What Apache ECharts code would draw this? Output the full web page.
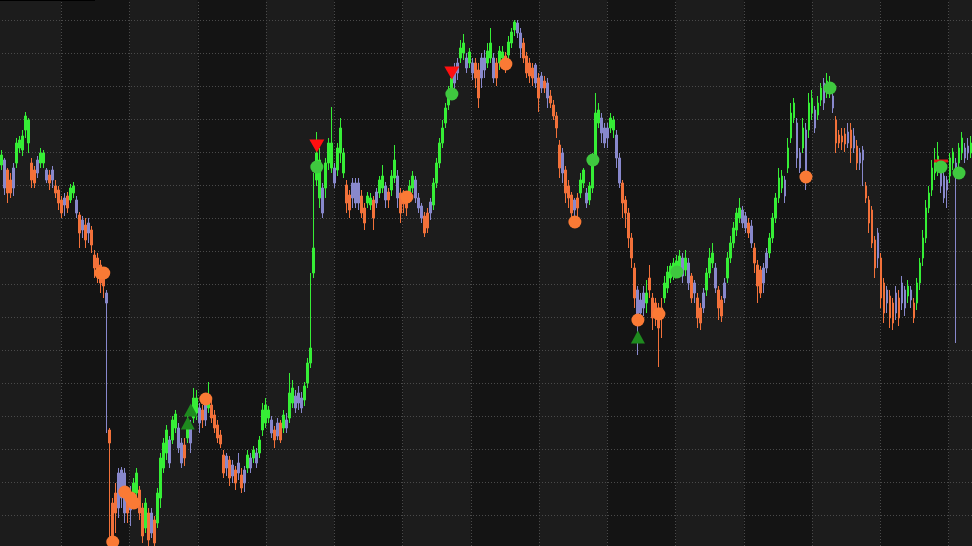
<!DOCTYPE html>
<html><head><meta charset="utf-8">
<script src="https://cdn.jsdelivr.net/npm/echarts@6/dist/echarts.min.js"></script>
<style>
html,body{margin:0;padding:0;background:#1c1c1c;overflow:hidden;width:972px;height:546px;}
#c{position:absolute;left:-7.25px;top:-13px;width:1023.75px;height:561px;}
#topline{position:absolute;left:0;top:0;width:95px;height:1px;background:#000;z-index:10;}
</style>
</head><body><div id="c"></div><div id="topline"></div>
<script>
// [open, close, low, high]
const ohlc = [
[383,393,378,398],[388,360,353,390],[378,355,345,380],[368,355,350,375],[360,380,352,385],[385,405,380,410],[400,408,395,412],[398,412,392,418],[418,432,410,436],[428,405,395,430],
[385,368,360,390],[378,365,360,382],[375,388,370,392],[385,395,380,400],[385,395,380,398],[378,368,365,380],[373,365,358,378],[368,378,360,382],[362,355,350,368],[358,345,338,362],
[348,335,330,352],[343,350,332,355],[352,340,335,356],[348,360,345,364],[355,362,350,366],[348,335,330,352],[333,315,300,336],[318,328,310,332],[323,308,300,330],[315,325,305,330],
[318,303,295,322],[293,280,270,298],[290,275,265,295],[283,265,255,288],[273,262,250,278],[255,245,115,258],[118,105,10,120],[45,10,2,50],[35,55,15,65],[40,75,30,80],
[50,78,40,81],[75,35,25,80],[55,35,25,60],[38,55,22,62],[45,65,40,70],[55,75,48,80],[58,35,28,62],[40,12,5,45],[20,45,15,50],[35,8,2,40],
[15,35,10,40],[28,5,0,32],[25,55,20,60],[50,90,40,95],[80,105,75,110],[95,118,88,123],[108,85,80,112],[108,128,104,132],[120,134,115,138],[120,100,95,125],
[105,85,80,110],[103,90,82,110],[110,128,105,135],[120,105,95,128],[130,150,125,160],[135,150,128,158],[140,125,115,145],[138,128,120,143],[128,145,122,150],[140,152,135,166],
[143,130,125,150],[133,120,115,138],[123,110,105,128],[113,104,100,118],[93,75,70,98],[80,92,72,95],[88,70,62,92],[72,83,65,88],[78,65,58,82],[75,85,68,95],
[73,60,55,80],[65,78,56,82],[80,93,75,98],[90,80,75,95],[90,98,85,102],[95,85,80,100],[95,108,90,112],[118,138,112,145],[125,143,120,150],[130,138,125,142],
[128,115,110,132],[118,108,100,122],[112,125,108,130],[125,108,105,128],[120,133,115,138],[128,120,115,135],[130,155,125,175],[145,160,140,168],[152,140,135,158],[145,155,138,162],
[150,140,135,156],[148,162,142,166],[165,185,160,190],[185,200,180,275],[275,300,270,375],[368,395,362,416],[388,350,340,400],[360,335,330,365],[360,385,350,390],[385,405,378,410],
[380,405,375,441],[380,365,360,385],[378,400,372,405],[395,420,385,430],[395,375,370,400],[363,345,335,368],[353,338,330,358],[350,365,340,370],[365,345,340,370],[345,365,338,370],
[352,335,330,358],[340,325,318,345],[345,352,340,356],[343,350,338,355],[348,330,318,352],[345,356,340,360],[355,368,350,372],[360,372,355,383],[362,348,340,366],[356,348,340,360],
[358,372,352,378],[370,388,365,403],[372,350,340,378],[355,335,325,360],[353,344,335,358],[350,340,332,355],[350,362,345,368],[360,372,355,377],[368,350,345,372],[350,340,335,355],
[342,330,325,345],[332,315,311,336],[320,335,315,340],[335,346,328,350],[343,365,338,370],[365,385,360,390],[385,405,380,410],[405,420,400,428],[425,440,420,445],[443,455,438,462],
[455,470,450,480],[465,480,455,485],[475,485,468,490],[490,500,485,508],[495,505,488,514],[490,480,475,495],[485,496,480,500],[485,475,468,490],[485,470,460,490],[478,450,440,485],
[470,490,460,495],[490,478,470,498],[485,497,480,505],[490,505,485,520],[490,470,465,495],[485,470,462,490],[485,497,478,502],[490,496,485,502],[492,480,475,496],[493,506,488,512],
[505,516,500,520],[518,526,512,528],[525,515,510,528],[515,500,490,520],[505,490,485,510],[492,475,470,496],[485,472,465,490],[480,470,462,485],[483,465,460,485],[470,450,436,475],
[460,472,455,476],[467,460,455,472],[465,450,440,470],[452,445,440,458],[443,432,428,448],[432,420,410,436],[403,380,370,408],[395,375,365,400],[378,355,345,382],[362,350,340,368],
[353,335,328,356],[338,348,325,350],[350,340,330,355],[355,368,350,375],[365,378,360,380],[355,345,340,360],[348,362,343,366],[360,388,355,395],[388,435,385,455],[425,438,420,445],
[430,415,405,435],[420,405,400,425],[410,420,400,425],[420,430,415,435],[428,418,410,432],[413,390,380,418],[390,365,360,395],[365,345,330,368],[348,335,320,352],[335,310,300,340],
[310,290,280,315],[280,250,240,285],[258,230,193,262],[248,235,225,255],[240,255,232,262],[255,245,235,268],[258,270,250,283],[250,230,218,255],[245,230,222,250],[240,220,181,245],
[240,230,210,250],[250,265,245,272],[260,276,255,282],[270,282,265,285],[272,285,268,290],[275,287,270,293],[280,292,275,298],[290,272,265,295],[278,290,272,298],[285,265,258,290],
[272,250,245,275],[255,265,245,268],[250,230,220,255],[240,225,218,245],[240,255,235,260],[258,275,252,280],[275,290,270,300],[285,295,280,305],[280,260,255,285],[258,240,228,262],
[248,232,226,252],[250,265,245,270],[270,290,265,296],[290,305,285,312],[305,320,300,326],[318,335,312,340],[330,340,325,350],[338,325,320,342],[332,320,315,336],[325,315,310,330],
[322,305,300,328],[300,285,275,305],[283,262,245,288],[278,255,250,282],[265,280,255,285],[280,295,275,300],[295,310,290,315],[310,330,305,335],[330,350,325,355],[350,370,345,380],
[360,372,355,378],[368,352,345,372],[380,400,375,410],[410,435,405,445],[430,445,425,450],[425,390,380,430],[395,380,375,400],[400,420,395,430],[418,375,358,425],[418,445,410,455],
[435,450,428,458],[438,420,415,442],[433,445,428,452],[448,460,442,465],[465,445,438,470],[455,467,450,475],[456,465,450,472],[452,440,435,456],[428,405,395,432],[413,405,400,418],
[412,406,398,420],[414,404,396,420],[405,416,400,425],[418,400,385,425],[412,400,395,420],[402,385,378,408],[395,385,378,400],[388,398,362,402],[362,350,345,366],[348,325,315,352],
[338,305,300,342],[308,280,270,312],[290,315,280,320],[290,250,240,295],[265,235,225,270],[245,258,235,262],[252,230,220,258],[245,225,218,250],[235,255,228,262],[250,230,222,258],
[245,265,238,272],[258,240,232,262],[252,262,245,268],[258,248,240,262],[245,230,225,250],[245,265,238,270],[265,285,258,290],[290,310,282,318],[310,340,305,348],[340,355,335,362],
[358,380,352,388],[375,388,368,400],[380,392,372,406],[378,362,355,385],[372,350,345,378],[358,368,340,372],[372,390,365,395],[385,396,378,400],[385,370,205,390],[385,400,378,405],
[395,410,388,416],[400,390,385,405],[395,402,388,410],[395,405,390,412]
];
// trend class per candle: g = up-trend, o = down-trend, p = neutral
const trend = ("gpoopggggg"+"oopggpopoo"+"opoggpopop"+"ooooopooop"+"ppopggoogo"+"poggggpggp"+"pogpggpopg"+"ooooopopop"+"opgpgpgggg"+"popogpggpp"+
 "pggggggpgg"+"gpgggooppp"+"ooggopggpo"+"ggpoooggpp"+"poopgggggg"+"gppggpgpoo"+"ppggpoggog"+"ggppoooopo"+"popoooopoo"+"opoggpgggg"+
 "pppggppooo"+"oopppgoooo"+"oggggggpgp"+"opoopgggpo"+"opgggggppo"+"poooppgggg"+"gpgggppgpg"+"gpggpggpoo"+"oopopoppoo"+"oopoopoopo"+
 "ppgpoggggg"+"gggpppggpg"+"gppg").split('');
// signal markers: [candle index, price]
const orangeDots = [[33,275],[34,275],[37,6],[41,56],[43,50],[44,45],[68,149],[135,351],[168,484],[191,326],[212,228],[219,234],[268,371]];
const greenDots = [[105,381],[150,454],[197,388],[225,276],[276,460],[313,381],[319,375]];
const sellArrows = [[105,402],[150,475]];
const buyArrows = [[62,125],[63,138],[212,211]];
const stopMarks = [[313,387]];

const palette = {g:'#36ee36', o:'#f2713a', p:'#8888cc'};
const cats = ohlc.map((_, i) => String(i));
const candleData = ohlc.map((v, i) => {
  const c = palette[trend[i]] || palette.p;
  return {value: v, itemStyle: {color: c, color0: c, borderColor: c, borderColor0: c}};
});

const chart = echarts.init(document.getElementById('c'), null, {renderer: 'canvas'});
chart.setOption({
  backgroundColor: '#141414',
  animation: false,
  grid: [
    {left: 0, right: 0, top: 0, bottom: 0, show: false},
    {left: 7.25, right: 44.5, top: 0, bottom: 0, show: false}
  ],
  xAxis: [
    {gridIndex: 0, type: 'value', min: 0, max: 15, interval: 1, z: 0, axisLine: {show: false}, axisTick: {show: false}, axisLabel: {show: false},
     splitLine: {show: true, lineStyle: {color: '#4a4a4a', width: 1, type: [1, 2]}},
     splitArea: {show: true, areaStyle: {color: ['#1c1c1c', '#141414']}}},
    {gridIndex: 1, type: 'category', data: cats, boundaryGap: true, show: false}
  ],
  yAxis: [
    {gridIndex: 0, type: 'value', min: 0, max: 17, interval: 1, z: 1, axisLine: {show: false}, axisTick: {show: false}, axisLabel: {show: false},
     splitLine: {show: true, lineStyle: {color: '#4a4a4a', width: 1, type: [1, 2]}}, splitArea: {show: false}},
    {gridIndex: 1, type: 'value', min: 0, max: 561, show: false, splitLine: {show: false}}
  ],
  series: [
    {type: 'candlestick', xAxisIndex: 1, yAxisIndex: 1, data: candleData, barWidth: 2.4, clip: false, z: 3,
     itemStyle: {borderWidth: 1}},
    {type: 'scatter', xAxisIndex: 1, yAxisIndex: 1, data: orangeDots, symbol: 'circle', symbolSize: 13,
     itemStyle: {color: '#fa7a35', opacity: 1}, z: 5, clip: false},
    {type: 'scatter', xAxisIndex: 1, yAxisIndex: 1, data: greenDots, symbol: 'circle', symbolSize: 13,
     itemStyle: {color: '#3fc83f', opacity: 1}, z: 5, clip: false},
    {type: 'scatter', xAxisIndex: 1, yAxisIndex: 1, data: sellArrows, symbol: 'triangle', symbolRotate: 180, symbolSize: [15, 13],
     itemStyle: {color: '#ff1010', opacity: 1}, z: 6, clip: false},
    {type: 'scatter', xAxisIndex: 1, yAxisIndex: 1, data: buyArrows, symbol: 'triangle', symbolSize: [14, 13],
     itemStyle: {color: '#1e8a1e', opacity: 1}, z: 6, clip: false},
    {type: 'scatter', xAxisIndex: 1, yAxisIndex: 1, data: stopMarks, symbol: 'rect', symbolSize: [14, 3],
     itemStyle: {color: '#e01818', opacity: 1}, z: 4, clip: false}
  ]
});
</script>
</body></html>
